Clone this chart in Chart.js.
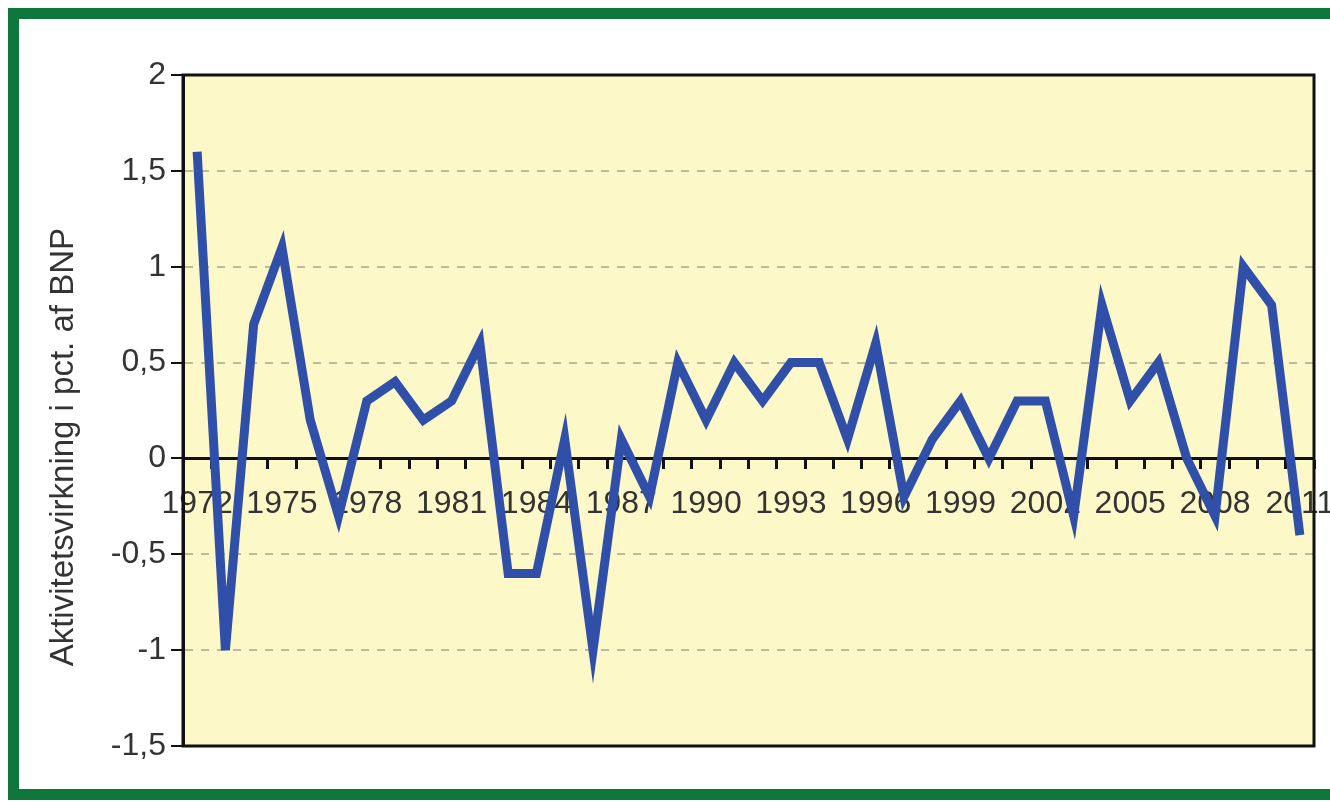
<!DOCTYPE html>
<html>
<head>
<meta charset="utf-8">
<script src="https://cdn.jsdelivr.net/npm/chart.js@4.4.0/dist/chart.umd.min.js"></script>
<style>
    body { margin: 0; background: #fff; width: 1330px; height: 802px; overflow: hidden; position: relative; font-family: "Liberation Sans", Arial, sans-serif; }
    #ramme { position: absolute; left: 8px; top: 8px; width: 1400px; height: 792px; box-sizing: border-box; border: 11px solid #0f773c; background: #fff; }
    #graf { position: absolute; left: 0; top: 0; }
</style>
</head>
<body>
<div id="ramme"></div>
<canvas id="graf" width="1330" height="802"></canvas>
<script>
// årstal på x-aksen
const aar = ['1972', '1973', '1974', '1975', '1976', '1977', '1978', '1979', '1980', '1981',
    '1982', '1983', '1984', '1985', '1986', '1987', '1988', '1989', '1990', '1991',
    '1992', '1993', '1994', '1995', '1996', '1997', '1998', '1999', '2000', '2001',
    '2002', '2003', '2004', '2005', '2006', '2007', '2008', '2009', '2010', '2011'];

// aktivitetsvirkning i pct. af BNP
const aktivitet = [1.6, -1.0, 0.7, 1.1, 0.2, -0.3, 0.3, 0.4, 0.2, 0.3,
    0.6, -0.6, -0.6, 0.1, -1.0, 0.1, -0.2, 0.5, 0.2, 0.5,
    0.3, 0.5, 0.5, 0.1, 0.6, -0.2, 0.1, 0.3, 0.0, 0.3,
    0.3, -0.3, 0.8, 0.3, 0.5, 0.0, -0.3, 1.0, 0.8, -0.4];

// kun hvert tredje år får en etiket
const visteAar = ['1972', '1975', '1978', '1981', '1984', '1987', '1990',
    '1993', '1996', '1999', '2002', '2005', '2008', '2011'];

const yMin = -1.5;
const yMax = 2;
const yStep = 0.5;

const skrift = '"Liberation Sans", Arial, sans-serif';

const plotBaggrund = {
    id: 'plotBaggrund',
    beforeDraw(chart) {
        const { ctx, chartArea: a } = chart;
        ctx.save();
        ctx.fillStyle = '#fcf8c8';
        ctx.fillRect(a.left, a.top, a.right - a.left, a.bottom - a.top);
        ctx.restore();
    },
    beforeDatasetsDraw(chart) {
        // sort kant om plotområdet
        const { ctx, chartArea: a } = chart;
        ctx.save();
        ctx.strokeStyle = '#111';
        ctx.lineWidth = 3;
        ctx.strokeRect(a.left, a.top, a.right - a.left, a.bottom - a.top);
        ctx.restore();
    }
};

new Chart(document.getElementById('graf'), {
    type: 'line',
    data: {
        labels: aar,
        datasets: [{
            label: 'Aktivitetsvirkning',
            data: aktivitet,
            borderColor: '#2f4fa8',
            borderWidth: 9,
            pointRadius: 0,
            tension: 0,
            fill: false
        }]
    },
    options: {
        responsive: false,
        animation: false,
        layout: { padding: { left: 20, top: 75, right: 16, bottom: 56 } },
        plugins: {
            legend: { display: false },
            tooltip: { enabled: false }
        },
        scales: {
            x: {
                position: { y: 0 },
                offset: true,
                grid: { display: true, offset: true, drawOnChartArea: false, drawTicks: true, tickLength: 9, tickColor: '#111', tickWidth: 3 },
                border: { color: '#111', width: 3 },
                ticks: {
                    autoSkip: false,
                    maxRotation: 0,
                    padding: 18,
                    color: '#333',
                    font: { size: 32, family: skrift },
                    callback: function (v) {
                        const l = this.getLabelForValue(v);
                        return visteAar.includes(l) ? l : '';
                    }
                },
                afterFit: s => { s.paddingLeft = 0; s.paddingRight = 0; }
            },
            y: {
                min: yMin,
                max: yMax,
                ticks: {
                    stepSize: yStep,
                    padding: 5,
                    color: '#333',
                    font: { size: 32, family: skrift },
                    callback: v => String(v).replace('.', ',')
                },
                grid: {
                    color: c => c.tick && c.tick.value === 0 ? 'rgba(0,0,0,0)' : '#bdb9a0',
                    lineWidth: 2,
                    tickLength: 12,
                    tickColor: '#111',
                    tickWidth: 2
                },
                border: { color: '#111', width: 3, dash: [8, 8] },
                title: {
                    display: true,
                    text: 'Aktivitetsvirkning i pct. af BNP        ',
                    color: '#333',
                    font: { size: 33, family: skrift },
                    padding: { top: 24, bottom: 0 }
                },
                afterFit: s => { s.width = 163; }
            }
        }
    },
    plugins: [plotBaggrund]
});
</script>
</body>
</html>
